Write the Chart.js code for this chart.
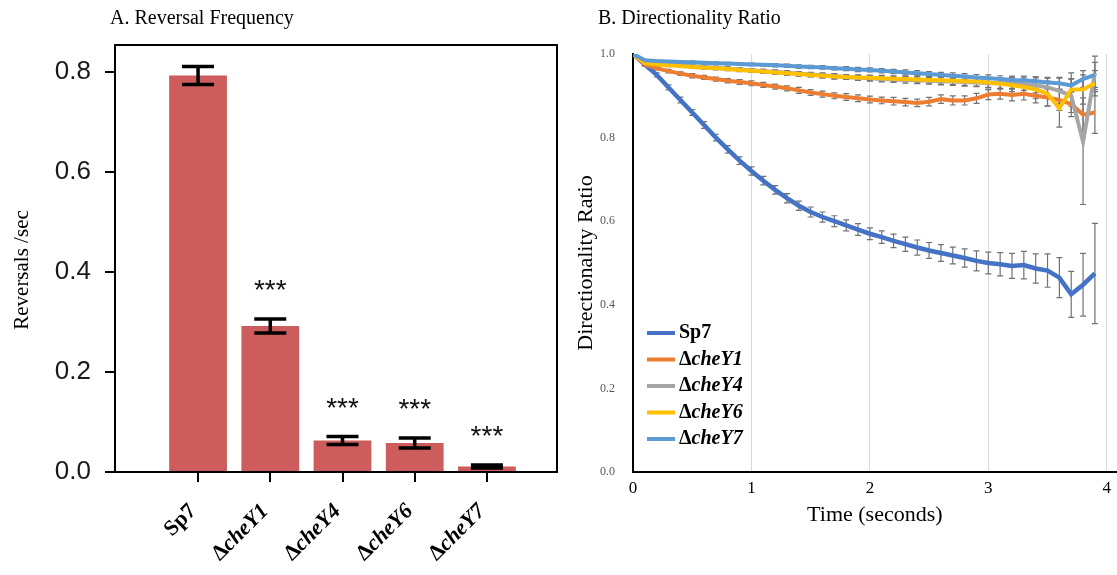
<!DOCTYPE html>
<html>
<head>
<meta charset="utf-8">
<script src="https://cdn.jsdelivr.net/npm/chart.js@4.4.0/dist/chart.umd.min.js"></script>
<style>
  body { margin: 0; background: #fff; }
  #left { position: absolute; left: 0; top: 0; width: 560px; height: 575px; }
  #right { position: absolute; left: 560px; top: 0; width: 557px; height: 575px; }
</style>
</head>
<body>
<div id="left"><canvas id="reversals"></canvas></div>
<div id="right"><canvas id="directionality"></canvas></div>
<script>
// panel A
const strains = ['Sp7', 'ΔcheY1', 'ΔcheY4', 'ΔcheY6', 'ΔcheY7']
const reversalRate = [0.793, 0.292, 0.063, 0.058, 0.011]
const reversalErr = [0.018, 0.014, 0.008, 0.010, 0.003]
const significance = ['', '***', '***', '***', '***']
const reversalTicks = [0, 0.2, 0.4, 0.6, 0.8]

// panel B
const timeSec = [0, 0.1, 0.2, 0.3, 0.4, 0.5, 0.6, 0.7, 0.8, 0.9, 1.0, 1.1, 1.2, 1.3, 1.4, 1.5, 1.6, 1.7, 1.8, 1.9,
  2.0, 2.1, 2.2, 2.3, 2.4, 2.5, 2.6, 2.7, 2.8, 2.9, 3.0, 3.1, 3.2, 3.3, 3.4, 3.5, 3.6, 3.7, 3.8, 3.9]
const timeTicks = [0, 1, 2, 3, 4]
const ratioTicks = [0, 0.2, 0.4, 0.6, 0.8, 1.0]

const ratioSp7 = [1.000, 0.975, 0.950, 0.920, 0.890, 0.860, 0.830, 0.800, 0.772, 0.745,
  0.720, 0.697, 0.675, 0.655, 0.637, 0.622, 0.610, 0.600, 0.590, 0.580,
  0.570, 0.562, 0.553, 0.545, 0.537, 0.530, 0.524, 0.518, 0.512, 0.505,
  0.500, 0.497, 0.493, 0.495, 0.487, 0.482, 0.465, 0.425, 0.448, 0.475]
const errSp7 = [0, 0.004, 0.005, 0.006, 0.007, 0.007, 0.008, 0.008, 0.009, 0.009,
  0.010, 0.010, 0.010, 0.011, 0.011, 0.012, 0.012, 0.013, 0.013, 0.014,
  0.014, 0.015, 0.016, 0.017, 0.018, 0.019, 0.020, 0.020, 0.022, 0.024,
  0.026, 0.028, 0.030, 0.033, 0.035, 0.040, 0.048, 0.055, 0.075, 0.120]

const ratioY1 = [1.000, 0.975, 0.966, 0.959, 0.953, 0.948, 0.944, 0.940, 0.936, 0.933,
  0.930, 0.926, 0.922, 0.918, 0.913, 0.908, 0.904, 0.900, 0.897, 0.894,
  0.891, 0.889, 0.887, 0.885, 0.883, 0.886, 0.892, 0.889, 0.889, 0.894,
  0.903, 0.905, 0.902, 0.905, 0.900, 0.896, 0.890, 0.880, 0.855, 0.860]
const errY1 = [0, 0.003, 0.004, 0.004, 0.004, 0.005, 0.005, 0.005, 0.005, 0.006,
  0.006, 0.006, 0.006, 0.006, 0.007, 0.007, 0.007, 0.007, 0.008, 0.008,
  0.008, 0.008, 0.009, 0.009, 0.009, 0.010, 0.010, 0.011, 0.011, 0.012,
  0.012, 0.013, 0.014, 0.015, 0.017, 0.020, 0.025, 0.030, 0.040, 0.050]

const ratioY4 = [1.000, 0.982, 0.978, 0.975, 0.973, 0.971, 0.969, 0.967, 0.965, 0.963,
  0.961, 0.959, 0.957, 0.955, 0.953, 0.951, 0.949, 0.947, 0.945, 0.943,
  0.942, 0.940, 0.939, 0.938, 0.937, 0.936, 0.935, 0.934, 0.933, 0.932,
  0.930, 0.930, 0.931, 0.928, 0.925, 0.920, 0.912, 0.900, 0.790, 0.955]
const errY4 = [0, 0.002, 0.003, 0.003, 0.003, 0.003, 0.004, 0.004, 0.004, 0.004,
  0.004, 0.005, 0.005, 0.005, 0.005, 0.005, 0.006, 0.006, 0.006, 0.006,
  0.007, 0.007, 0.007, 0.008, 0.008, 0.008, 0.009, 0.009, 0.010, 0.010,
  0.011, 0.012, 0.013, 0.015, 0.018, 0.022, 0.030, 0.040, 0.150, 0.040]

const ratioY6 = [1.000, 0.978, 0.975, 0.973, 0.971, 0.969, 0.967, 0.966, 0.964, 0.962,
  0.960, 0.958, 0.956, 0.954, 0.952, 0.950, 0.948, 0.946, 0.945, 0.944,
  0.943, 0.942, 0.941, 0.940, 0.939, 0.938, 0.937, 0.936, 0.935, 0.934,
  0.932, 0.929, 0.925, 0.921, 0.915, 0.905, 0.870, 0.915, 0.915, 0.930]
const errY6 = [0, 0.002, 0.003, 0.003, 0.003, 0.003, 0.003, 0.004, 0.004, 0.004,
  0.004, 0.004, 0.005, 0.005, 0.005, 0.005, 0.005, 0.006, 0.006, 0.006,
  0.006, 0.007, 0.007, 0.007, 0.008, 0.008, 0.009, 0.009, 0.010, 0.011,
  0.012, 0.013, 0.015, 0.018, 0.022, 0.030, 0.045, 0.040, 0.035, 0.030]

const ratioY7 = [1.000, 0.985, 0.983, 0.982, 0.981, 0.980, 0.979, 0.978, 0.977, 0.976,
  0.975, 0.974, 0.973, 0.972, 0.970, 0.969, 0.968, 0.966, 0.965, 0.963,
  0.962, 0.960, 0.958, 0.956, 0.954, 0.952, 0.950, 0.948, 0.946, 0.944,
  0.942, 0.940, 0.938, 0.937, 0.935, 0.932, 0.930, 0.925, 0.940, 0.950]
const errY7 = [0, 0.002, 0.002, 0.002, 0.002, 0.003, 0.003, 0.003, 0.003, 0.003,
  0.003, 0.003, 0.004, 0.004, 0.004, 0.004, 0.004, 0.004, 0.005, 0.005,
  0.005, 0.005, 0.005, 0.006, 0.006, 0.006, 0.006, 0.007, 0.007, 0.007,
  0.008, 0.008, 0.009, 0.010, 0.011, 0.012, 0.014, 0.016, 0.020, 0.030]

const ratioSeries = [ratioSp7, ratioY1, ratioY4, ratioY6, ratioY7]
const ratioErrors = [errSp7, errY1, errY4, errY6, errY7]
const lineColors = ['#4472c4', '#ed7d31', '#a5a5a5', '#ffc000', '#5b9bd5']

const serif = 'Liberation Serif'
const sans = 'Liberation Sans'

// "Δ" upright, gene name in bold italic
function strainParts(label) {
  return label.startsWith('Δ') ? [['Δ', 'bold'], [label.slice(1), 'italic bold']] : [[label, 'bold']]
}

function drawStrain(ctx, label, x, y, size, angle, align) {
  const parts = strainParts(label)
  const fonts = parts.map(p => `${p[1]} ${size}px "${serif}"`)
  const widths = parts.map((p, k) => { ctx.font = fonts[k]; return ctx.measureText(p[0]).width })
  const total = widths.reduce((a, b) => a + b, 0)
  ctx.save()
  ctx.translate(x, y)
  ctx.rotate(angle)
  ctx.textBaseline = 'middle'
  ctx.textAlign = 'left'
  ctx.fillStyle = '#000'
  let cx = align === 'right' ? -total : 0
  parts.forEach((p, k) => { ctx.font = fonts[k]; ctx.fillText(p[0], cx, 0); cx += widths[k] })
  ctx.restore()
}

const barExtras = {
  id: 'barExtras',
  afterDatasetsDraw(chart) {
    const { ctx, chartArea: a, scales: { x, y } } = chart
    ctx.save()
    ctx.strokeStyle = '#000'
    ctx.lineWidth = 2
    ctx.beginPath()
    ctx.moveTo(a.left, a.top)
    ctx.lineTo(a.right, a.top)
    ctx.lineTo(a.right, a.bottom)
    ctx.stroke()

    ctx.lineWidth = 3.5
    ctx.font = `28px "${sans}"`
    ctx.textAlign = 'center'
    ctx.textBaseline = 'alphabetic'
    ctx.fillStyle = '#111'
    reversalRate.forEach((v, i) => {
      const cx = x.getPixelForValue(i)
      const hi = y.getPixelForValue(v + reversalErr[i])
      const lo = y.getPixelForValue(v - reversalErr[i])
      ctx.beginPath()
      ctx.moveTo(cx, hi); ctx.lineTo(cx, lo)
      ctx.moveTo(cx - 16, hi); ctx.lineTo(cx + 16, hi)
      ctx.moveTo(cx - 16, lo); ctx.lineTo(cx + 16, lo)
      ctx.stroke()
      ctx.fillText(significance[i], cx, hi - 20)
    })

    strains.forEach((s, i) => drawStrain(ctx, s, x.getPixelForValue(i) - 5, 508, 22, -Math.PI / 4, 'right'))

    // axis title, centred a little below the plot middle as in the figure
    ctx.save()
    ctx.translate(22, 270)
    ctx.rotate(-Math.PI / 2)
    ctx.font = `21px "${serif}"`
    ctx.textAlign = 'center'
    ctx.textBaseline = 'middle'
    ctx.fillStyle = '#000'
    ctx.fillText('Reversals /sec', 0, 0)
    ctx.restore()

    ctx.font = `20px "${serif}"`
    ctx.textAlign = 'left'
    ctx.textBaseline = 'middle'
    ctx.fillStyle = '#000'
    ctx.fillText('A. Reversal Frequency', 110, 19)
    ctx.restore()
  }
}

new Chart(document.getElementById('reversals'), {
  type: 'bar',
  data: {
    datasets: [{
      label: 'Reversals /sec',
      data: strains.map((s, i) => ({ x: i, y: reversalRate[i] })),
      backgroundColor: '#cd5c5c',
      categoryPercentage: 1,
      barPercentage: 0.8
    }]
  },
  options: {
    animation: false,
    responsive: true,
    maintainAspectRatio: false,
    layout: { padding: { top: 45, right: 3, left: 0, bottom: 0 } },
    plugins: { legend: { display: false }, tooltip: { enabled: false } },
    scales: {
      x: {
        type: 'linear', min: -1.15, max: 4.97, offset: false,
        afterBuildTicks: s => { s.ticks = strains.map((_, i) => ({ value: i })) },
        afterFit: s => { s.height = 103 },
        grid: { offset: false, drawOnChartArea: false, drawTicks: true, tickLength: 10, color: '#000', lineWidth: 2 },
        border: { color: '#000', width: 2 },
        ticks: { callback: () => '' }
      },
      y: {
        min: 0, max: 0.854,
        afterBuildTicks: s => { s.ticks = reversalTicks.map(v => ({ value: v })) },
        afterFit: s => { s.width = 115 },
        grid: { drawOnChartArea: false, tickLength: 10, color: '#000', lineWidth: 2 },
        border: { color: '#000', width: 2 },
        ticks: { padding: 14, color: '#1a1a1a', font: { family: sans, size: 26 }, callback: v => v.toFixed(1) }
      }
    }
  },
  plugins: [barExtras]
})

const lineExtras = {
  id: 'lineExtras',
  beforeDatasetsDraw(chart) {
    const { ctx, scales: { x, y } } = chart
    ctx.save()
    ctx.strokeStyle = '#727272'
    ctx.lineWidth = 1.2
    ratioErrors.forEach((errs, d) => {
      ratioSeries[d].forEach((v, i) => {
        if (!errs[i]) return
        const px = x.getPixelForValue(timeSec[i])
        const hi = y.getPixelForValue(v + errs[i])
        const lo = y.getPixelForValue(v - errs[i])
        ctx.beginPath()
        ctx.moveTo(px, hi); ctx.lineTo(px, lo)
        ctx.moveTo(px - 3, hi); ctx.lineTo(px + 3, hi)
        ctx.moveTo(px - 3, lo); ctx.lineTo(px + 3, lo)
        ctx.stroke()
      })
    })
    ctx.restore()
  },
  afterDraw(chart) {
    const { ctx, chartArea: a } = chart
    ctx.save()
    strains.forEach((s, k) => {
      const ly = 333 + 26.5 * k
      ctx.strokeStyle = lineColors[k]
      ctx.lineWidth = 4
      ctx.beginPath()
      ctx.moveTo(a.left + 14, ly)
      ctx.lineTo(a.left + 42, ly)
      ctx.stroke()
      drawStrain(ctx, s, a.left + 46, ly, 20, 0, 'left')
    })
    ctx.font = `20px "${serif}"`
    ctx.textAlign = 'left'
    ctx.textBaseline = 'middle'
    ctx.fillStyle = '#000'
    ctx.fillText('B. Directionality Ratio', 38, 19)
    ctx.restore()
  }
}

new Chart(document.getElementById('directionality'), {
  type: 'line',
  data: {
    datasets: ratioSeries.map((vals, k) => ({
      label: strains[k],
      data: timeSec.map((t, i) => ({ x: t, y: vals[i] })),
      borderColor: lineColors[k],
      backgroundColor: lineColors[k],
      borderWidth: k === 0 ? 4.5 : 4,
      pointRadius: 0,
      order: strains.length - k
    }))
  },
  options: {
    animation: false,
    responsive: true,
    maintainAspectRatio: false,
    layout: { padding: { top: 54, right: 0, left: 0, bottom: 0 } },
    plugins: { legend: { display: false }, tooltip: { enabled: false } },
    scales: {
      x: {
        type: 'linear', min: 0, max: 4.084,
        afterBuildTicks: s => { s.ticks = timeTicks.map(v => ({ value: v })) },
        afterFit: s => { s.height = 103 },
        grid: { color: c => (c.tick && c.tick.value === 0 ? 'rgba(0,0,0,0)' : '#d9d9d9'), lineWidth: 1, drawTicks: false },
        border: { color: '#000', width: 2 },
        ticks: { padding: 6, color: '#000', font: { family: serif, size: 17 } },
        title: { display: true, text: 'Time (seconds)', color: '#000', font: { family: serif, size: 22 }, padding: { bottom: 47 } }
      },
      y: {
        min: 0, max: 1,
        afterBuildTicks: s => { s.ticks = ratioTicks.map(v => ({ value: v })) },
        afterFit: s => { s.width = 73 },
        grid: { display: false },
        border: { color: '#000', width: 2 },
        ticks: { padding: 10, color: '#595959', font: { family: serif, size: 12 }, callback: v => v.toFixed(1) },
        title: { display: true, text: 'Directionality Ratio', color: '#000', font: { family: serif, size: 22 }, padding: { top: 13 } }
      }
    }
  },
  plugins: [lineExtras]
})
</script>
</body>
</html>
